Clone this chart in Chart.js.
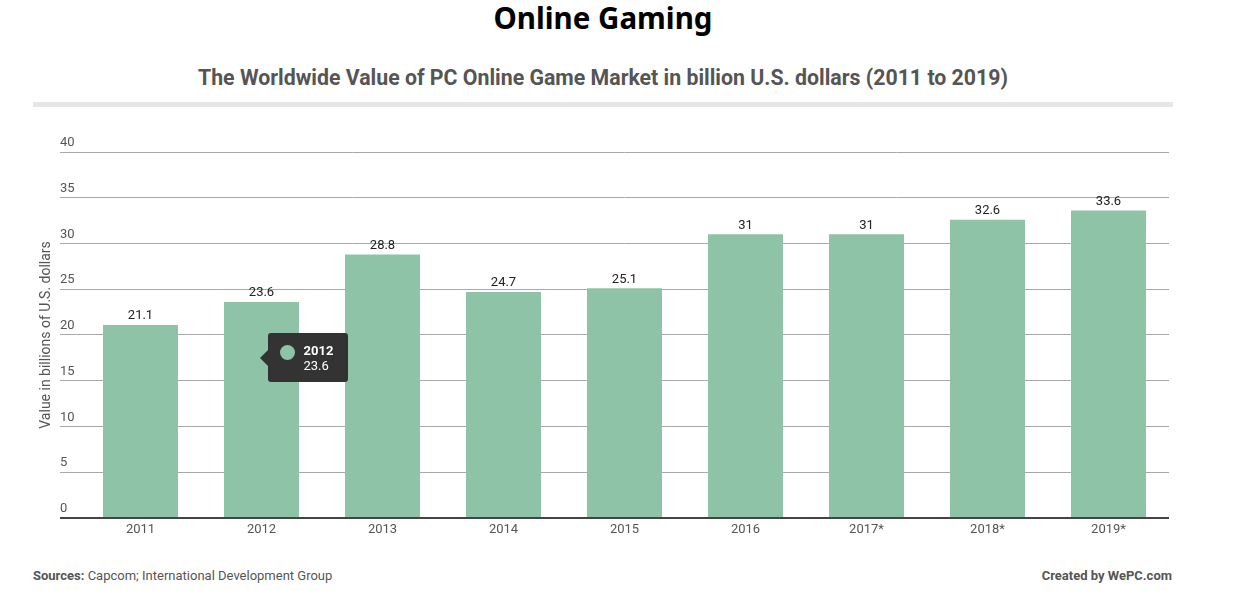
<!DOCTYPE html>
<html>
<head>
<meta charset="utf-8">
<title>Online Gaming</title>
<script src="https://cdn.jsdelivr.net/npm/chart.js@4.4.1/dist/chart.umd.min.js"></script>
<style>
  html, body { margin: 0; padding: 0; background: #fff; }
  #page { position: relative; width: 1237px; height: 591px; overflow: hidden; font-family: Roboto, sans-serif; }
  #title { position: absolute; left: 33px; width: 1140px; top: -1px; text-align: center; font: 700 29.5px/38px "Noto Sans", sans-serif; color: #000; }
  #subtitle { position: absolute; left: 33px; width: 1140px; top: 65px; text-align: center; font: 700 21.3px/25px Roboto, sans-serif; color: #555; }
  #rule { position: absolute; left: 33px; width: 1140px; top: 102px; height: 5px; background: #e6e6e6; }
  #chartBox { position: absolute; left: 0; top: 110px; }
  .foot { position: absolute; top: 568px; font: 13px/16px Roboto, sans-serif; color: #555; }
  #sources { left: 33px; }
  #credit { right: 65px; font-weight: 700; }
  #tip { position: absolute; display: none; width: 80px; height: 49px; background: #333; border-radius: 3px; color: #fff; font: 13px/15px Roboto, sans-serif; }
  #tip:before { content: ""; position: absolute; left: -8px; top: 17px; border-top: 8px solid transparent; border-bottom: 8px solid transparent; border-right: 8px solid #333; }
  #tip .dot { position: absolute; left: 12px; top: 12px; width: 15px; height: 15px; border-radius: 50%; }
  #tip .t { position: absolute; left: 36px; top: 10px; font-weight: 700; }
  #tip .v { position: absolute; left: 36px; top: 25px; }
</style>
</head>
<body>
<div id="page">
  <div id="title">Online Gaming</div>
  <div id="subtitle">The Worldwide Value of PC Online Game Market in billion U.S. dollars (2011 to 2019)</div>
  <div id="rule"></div>
  <div id="chartBox"><canvas id="gaming" width="1237" height="440"></canvas></div>
  <div class="foot" id="sources"><b>Sources:</b> Capcom; International Development Group</div>
  <div class="foot" id="credit">Created by WePC.com</div>
  <div id="tip"><span class="dot"></span><span class="t"></span><span class="v"></span></div>
</div>
<script>
  var years = ["2011", "2012", "2013", "2014", "2015", "2016", "2017*", "2018*", "2019*"];
  var marketValues = [21.1, 23.6, 28.8, 24.7, 25.1, 31, 31, 32.6, 33.6];
  var yMin = 0;
  var yMax = 40;
  var yStep = 5;
  var highlighted = 1; // 2012 has the tooltip open

  var barColor = "#8ec3a7";
  var textGrey = "#555";

  // value above every bar
  var valueLabels = {
    id: "valueLabels",
    afterDatasetsDraw: function (chart) {
      var ctx = chart.ctx;
      var meta = chart.getDatasetMeta(0);
      ctx.save();
      ctx.font = "13px Roboto";
      ctx.fillStyle = "#222";
      ctx.textAlign = "center";
      ctx.textBaseline = "middle";
      meta.data.forEach(function (bar, i) {
        ctx.fillText(String(marketValues[i]), bar.x, bar.y - 9);
      });
      ctx.restore();
    }
  };

  // tooltip sits beside the bar, a bit below its top
  Chart.Tooltip.positioners.besideBar = function (items) {
    if (!items.length) return false;
    var bar = items[0].element;
    return { x: bar.x - 2, y: bar.y + 56 };
  };

  function drawTip(context) {
    var tip = document.getElementById("tip");
    var model = context.tooltip;
    if (model.opacity === 0 || !model.dataPoints || !model.dataPoints.length) {
      tip.style.display = "none";
      return;
    }
    var point = model.dataPoints[0];
    tip.querySelector(".dot").style.background = barColor;
    tip.querySelector(".t").textContent = point.label;
    tip.querySelector(".v").textContent = point.formattedValue;
    var box = document.getElementById("chartBox");
    tip.style.left = (box.offsetLeft + model.caretX + 8) + "px";
    tip.style.top = (box.offsetTop + model.caretY - 25) + "px";
    tip.style.display = "block";
  }

  var chart = new Chart(document.getElementById("gaming"), {
    type: "bar",
    data: {
      labels: years,
      datasets: [{
        data: marketValues,
        backgroundColor: barColor,
        hoverBackgroundColor: barColor,
        borderWidth: 0,
        categoryPercentage: 1,
        barPercentage: 0.62
      }]
    },
    plugins: [valueLabels],
    options: {
      responsive: false,
      animation: false,
      events: [],
      layout: { padding: { top: 42, bottom: 8.5, left: 38, right: 68 } },
      plugins: {
        legend: { display: false },
        tooltip: { enabled: false, external: drawTip, position: "besideBar" }
      },
      scales: {
        x: {
          grid: { display: false, drawTicks: false },
          border: { display: false },
          ticks: { color: textGrey, font: { family: "Roboto", size: 13 }, padding: 4 }
        },
        y: {
          min: yMin,
          max: yMax,
          border: { display: false },
          grid: {
            drawTicks: true,
            tickLength: 20,
            color: function (c) { return c.tick && c.tick.value === 0 ? "#444" : "#a8a8a8"; },
            lineWidth: function (c) { return c.tick && c.tick.value === 0 ? 2 : 1; }
          },
          ticks: {
            stepSize: yStep,
            mirror: true,
            padding: -20,
            labelOffset: -9,
            color: textGrey,
            font: { family: "Roboto", size: 13 }
          },
          title: {
            display: true,
            text: "Value in billions of U.S. dollars",
            color: textGrey,
            font: { family: "Roboto", size: 14 },
            padding: { top: 0, bottom: 45.2 }
          }
        }
      }
    }
  });

  chart.tooltip.setActiveElements([{ datasetIndex: 0, index: highlighted }], { x: 0, y: 0 });
</script>
</body>
</html>
